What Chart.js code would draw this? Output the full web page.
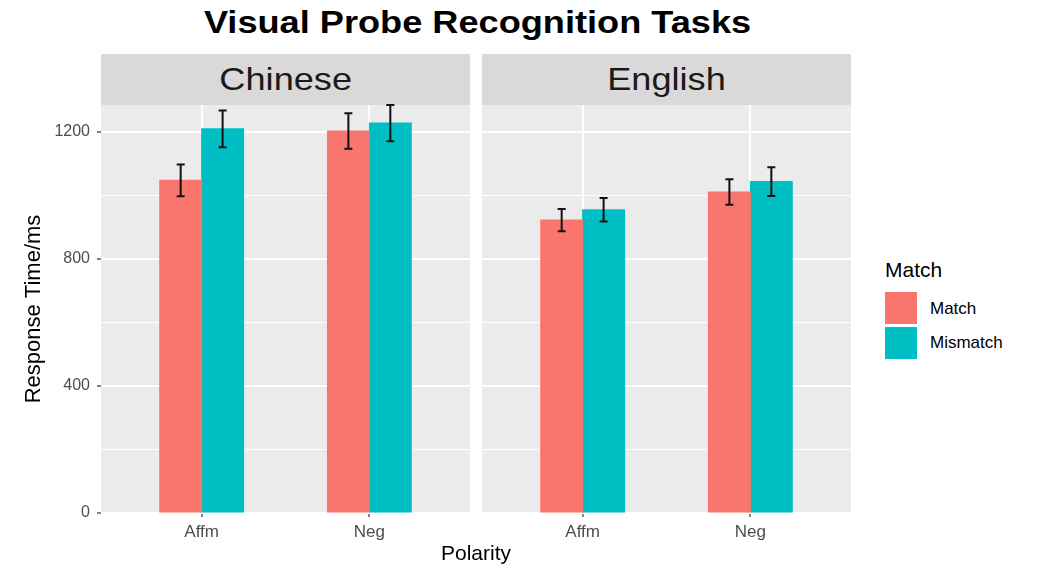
<!DOCTYPE html>
<html>
<head>
<meta charset="utf-8">
<title>Visual Probe Recognition Tasks</title>
<script src="https://cdn.jsdelivr.net/npm/chart.js@4"></script>
<style>
  body { margin: 0; background: #fff; font-family: "Liberation Sans", Arial, sans-serif; }
  #page { position: relative; width: 1038px; height: 570px; overflow: hidden; background: #fff; }
  .abs { position: absolute; }
  .title { left: 0; width: 955px; top: 2px; height: 40px; line-height: 40px; text-align: center;
           font-weight: bold; font-size: 32px; color: #000; transform: scaleX(1.13); }
  .strip { top: 54px; height: 51px; line-height: 51px; background: #D9D9D9; text-align: center;
           font-size: 32px; color: #1A1A1A; }
  .strip span { display: inline-block; transform: scaleX(1.13); }
  .xtitle { left: 101px; width: 750px; top: 540px; height: 26px; line-height: 26px; text-align: center;
            font-size: 21px; color: #000; }
  .leg-title { left: 885px; top: 257px; font-size: 21px; color: #000; line-height: 26px; }
  .leg-key { left: 885px; width: 32px; height: 32px; }
  .leg-label { left: 930px; font-size: 17px; color: #000; line-height: 20px; }
</style>
</head>
<body>
<div id="page">
  <div class="abs title">Visual Probe Recognition Tasks</div>

  <div class="abs strip" style="left:101px; width:369px;"><span>Chinese</span></div>
  <div class="abs strip" style="left:482px; width:369px;"><span>English</span></div>

  <canvas id="chinese" class="abs" width="470" height="570" style="left:0; top:0;"></canvas>
  <canvas id="english" class="abs" width="369" height="570" style="left:482px; top:0;"></canvas>

  <div class="abs xtitle">Polarity</div>

  <div class="abs leg-title">Match</div>
  <div class="abs leg-key" id="key-match" style="top:292px;"></div>
  <div class="abs leg-key" id="key-mismatch" style="top:327px;"></div>
  <div class="abs leg-label" id="lab-match" style="top:299px;"></div>
  <div class="abs leg-label" id="lab-mismatch" style="top:333px;"></div>
</div>

<script>
// categories and series
const polarity = ['Affm', 'Neg'];
const seriesNames = ['Match', 'Mismatch'];
const seriesColors = ['#F8766D', '#00BFC4'];

const chineseMatch = [1047, 1202];
const chineseMismatch = [1209, 1227];
const chineseMatchErr = [50, 56];
const chineseMismatchErr = [58, 57];

const englishMatch = [922, 1010];
const englishMismatch = [954, 1043];
const englishMatchErr = [35, 40];
const englishMismatchErr = [37, 45];

const yMajorTicks = [0, 400, 800, 1200];
const yMinorTicks = [200, 600, 1000];

// shared y range: from zero to the highest error bar end
const yMax = Math.max(
  ...chineseMatch.map((v, i) => v + chineseMatchErr[i]),
  ...chineseMismatch.map((v, i) => v + chineseMismatchErr[i]),
  ...englishMatch.map((v, i) => v + englishMatchErr[i]),
  ...englishMismatch.map((v, i) => v + englishMismatchErr[i])
);

// legend swatches
document.getElementById('key-match').style.background = seriesColors[0];
document.getElementById('key-mismatch').style.background = seriesColors[1];
document.getElementById('lab-match').textContent = seriesNames[0];
document.getElementById('lab-mismatch').textContent = seriesNames[1];

const FONT = '"Liberation Sans", Arial, sans-serif';

// grey panel behind the grid
const panelBackground = {
  id: 'panelBackground',
  beforeDraw(chart) {
    const { ctx, chartArea: a } = chart;
    ctx.save();
    ctx.fillStyle = '#EBEBEB';
    ctx.fillRect(a.left, a.top, a.right - a.left, a.bottom - a.top);
    ctx.restore();
  }
};

// standard error whiskers on top of each bar
const errorBars = {
  id: 'errorBars',
  afterDatasetsDraw(chart) {
    const { ctx } = chart;
    const yScale = chart.scales.y;
    ctx.save();
    ctx.strokeStyle = '#111111';
    ctx.lineWidth = 2;
    chart.data.datasets.forEach((ds, di) => {
      const meta = chart.getDatasetMeta(di);
      meta.data.forEach((bar, i) => {
        const v = ds.data[i].y;
        const e = ds.errors[i];
        const top = yScale.getPixelForValue(v + e);
        const bottom = yScale.getPixelForValue(v - e);
        const cap = 4;
        ctx.beginPath();
        ctx.moveTo(bar.x, top);
        ctx.lineTo(bar.x, bottom);
        ctx.moveTo(bar.x - cap, top);
        ctx.lineTo(bar.x + cap, top);
        ctx.moveTo(bar.x - cap, bottom);
        ctx.lineTo(bar.x + cap, bottom);
        ctx.stroke();
      });
    });
    ctx.restore();
  }
};

function makePanel(canvasId, match, mismatch, matchErr, mismatchErr, showY) {
  const toPoints = arr => polarity.map((p, i) => ({ x: i + 1, y: arr[i] }));

  return new Chart(document.getElementById(canvasId), {
    type: 'bar',
    data: {
      datasets: [
        {
          label: seriesNames[0],
          data: toPoints(match),
          errors: matchErr,
          backgroundColor: seriesColors[0],
          borderWidth: 0,
          inflateAmount: 0.5
        },
        {
          label: seriesNames[1],
          data: toPoints(mismatch),
          errors: mismatchErr,
          backgroundColor: seriesColors[1],
          borderWidth: 0,
          inflateAmount: 0.5
        }
      ]
    },
    options: {
      responsive: false,
      animation: false,
      categoryPercentage: 0.5,
      barPercentage: 1,
      layout: { padding: { top: 105, left: 0, right: 0, bottom: 0 } },
      plugins: {
        legend: { display: false },
        tooltip: { enabled: false }
      },
      scales: {
        x: {
          type: 'linear',
          min: 0.4,
          max: 2.6,
          offset: false,
          afterBuildTicks(scale) {
            scale.ticks = polarity.map((p, i) => ({ value: i + 1 }));
          },
          afterFit(scale) {
            scale.height = 57;
          },
          border: { display: false },
          grid: {
            offset: false,
            color: '#FFFFFF',
            lineWidth: 2,
            tickLength: 4,
            tickColor: '#333333',
            tickWidth: 1.2
          },
          ticks: {
            padding: 5,
            color: '#4D4D4D',
            font: { family: FONT, size: 17 },
            callback: value => polarity[value - 1]
          }
        },
        y: {
          type: 'linear',
          min: 0,
          max: yMax,
          afterBuildTicks(scale) {
            scale.ticks = [...yMajorTicks, ...yMinorTicks]
              .sort((a, b) => a - b)
              .map(v => ({ value: v }));
          },
          afterFit(scale) {
            scale.width = showY ? 101 : 0;
          },
          border: { display: false },
          grid: {
            color: '#FFFFFF',
            lineWidth: ctx => (yMajorTicks.includes(ctx.tick.value) ? 2 : 1),
            drawTicks: showY,
            tickLength: 4,
            tickColor: ctx => (yMajorTicks.includes(ctx.tick.value) ? '#333333' : 'rgba(0,0,0,0)'),
            tickWidth: 1.2
          },
          ticks: {
            display: showY,
            padding: 7,
            color: '#4D4D4D',
            font: { family: FONT, size: 16 },
            callback: value => (yMajorTicks.includes(value) ? String(value) : '')
          },
          title: {
            display: showY,
            text: 'Response Time/ms',
            color: '#000000',
            font: { family: FONT, size: 22 },
            padding: { top: 21, bottom: 0 }
          }
        }
      }
    },
    plugins: [panelBackground, errorBars]
  });
}

makePanel('chinese', chineseMatch, chineseMismatch, chineseMatchErr, chineseMismatchErr, true);
makePanel('english', englishMatch, englishMismatch, englishMatchErr, englishMismatchErr, false);
</script>
</body>
</html>
